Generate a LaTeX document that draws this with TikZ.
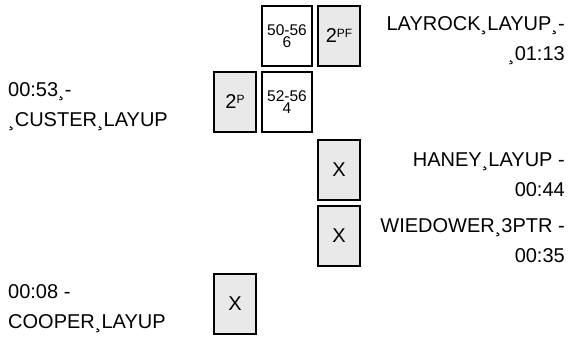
\documentclass[tikz,border=0pt]{standalone}
\usepackage{fontspec}
\setmainfont{Liberation Sans}
\usetikzlibrary{positioning}
\definecolor{boxgray}{RGB}{233,233,233}
\newcommand{\upmark}[1]{\raisebox{5.6pt}{\fontsize{12}{12}\selectfont #1}}

\begin{document}
\begin{tikzpicture}[x=1pt, y=-1pt,
    node distance=4pt,
    cell/.style={rectangle, draw=black, line width=2pt, minimum width=42pt,
                 minimum height=60pt, inner sep=0pt, font=\fontsize{20}{20}\selectfont},
    shaded/.style={cell, fill=boxgray},
    wide/.style={cell, fill=white, minimum width=50pt, align=center,
                 font=\fontsize{15.5}{12}\selectfont},
    lbl/.style={inner sep=0pt, yshift=-4.5pt, font=\fontsize{20}{30.5}\selectfont}
]
    \useasboundingbox (0,0) rectangle (573,343);
    \coordinate (lft) at (8,0);
    \coordinate (rgt) at (565,0);

    % Boxes
    \node[wide] (r1b) at (287,36) {50-56\\6};
    \node[shaded, right=of r1b] (r1c) {2\upmark{PF}};
    \node[wide, below=of r1b] (r2b) {52-56\\4};
    \node[shaded, left=of r2b] (r2a) {2\upmark{P}};
    \node[shaded, below=72pt of r1c] (r3c) {X};
    \node[shaded, below=of r3c] (r4c) {X};
    \node[shaded, below=140pt of r2a] (r5a) {X};

    % Labels
    \node[lbl, anchor=east, align=right] (layrock) at (r1c -| rgt) {LAYROCK¸LAYUP¸-\\¸01:13};
    \node[lbl, anchor=west, align=left] (custer) at (r2a -| lft) {00:53¸-\\¸CUSTER¸LAYUP};
    \node[lbl, anchor=east, align=right] (haney) at (r3c -| rgt) {HANEY¸LAYUP -\\00:44};
    \node[lbl, anchor=east, align=right] (wiedower) at (r4c -| rgt) {WIEDOWER¸3PTR -\\00:35};
    \node[lbl, anchor=west, align=left] (cooper) at (r5a -| lft) {00:08 -\\COOPER¸LAYUP};
\end{tikzpicture}
\end{document}
